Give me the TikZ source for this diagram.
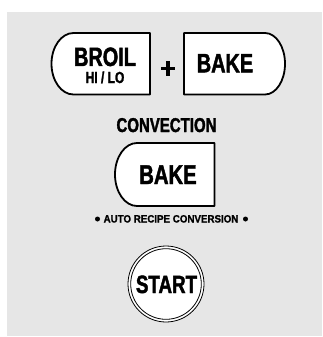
\documentclass[tikz,border=0pt]{standalone}
\usepackage{fontspec}
\setmainfont{Liberation Sans}
\newfontfamily\condfont[FakeStretch=0.75,FakeBold=1.6]{Liberation Sans}
\newfontfamily\plainfont[FakeStretch=0.92,FakeBold=1.2]{Liberation Sans}
\definecolor{panel}{RGB}{230,230,230}
\begin{document}
\begin{tikzpicture}[x=1pt,y=-1pt,
  btn/.style={draw=black, fill=white, line width=1.8pt, line join=round},
  lbl/.style={anchor=base, inner sep=0pt, font=\condfont\bfseries},
  ring/.style={draw=black, line width=0.8pt}]
\useasboundingbox (0,0) rectangle (322,337);
\fill[panel] (7,12) rectangle (322,336);
% BROIL button
\draw[btn] (150,33) -- (73.5,33) arc[start angle=270, end angle=90, x radius=22, y radius=30.75] -- (150,94.5) -- cycle;
% top BAKE button
\draw[btn] (184,33) -- (265,33) arc[start angle=-90, end angle=90, x radius=20, y radius=30.75] -- (184,94.5) -- cycle;
% convection BAKE button
\draw[btn] (214.5,143) -- (137,143) arc[start angle=270, end angle=90, x radius=22, y radius=31.5] -- (214.5,206) -- cycle;
% START button
\draw[ring, fill=white] (166,284) circle (38);
\draw[ring] (166,284) circle (35.3);
% texts
\node[lbl, font=\condfont\bfseries\fontsize{26.5}{26.5}\selectfont] (broil) at (105,66) {BROIL};
\node[lbl, font=\condfont\bfseries\fontsize{16}{16}\selectfont] (hilo) at (105,83) {HI / LO};
\node[lbl, font=\condfont\bfseries\fontsize{26.5}{26.5}\selectfont] (bake1) at (225,72.3) {BAKE};
\node[lbl, font=\condfont\bfseries\fontsize{20}{20}\selectfont] (conv) at (166.5,132) {CONVECTION};
\node[lbl, font=\condfont\bfseries\fontsize{27}{27}\selectfont] (bake2) at (168,184) {BAKE};
\node[lbl, font=\plainfont\bfseries\fontsize{10.6}{10.6}\selectfont] (auto) at (171,222.5) {AUTO RECIPE CONVERSION};
\node[lbl, font=\condfont\bfseries\fontsize{25}{25}\selectfont] (start) at (166.5,293) {START};
% bullets
\fill (97.5,219) circle (2.5);
\fill (245.5,219) circle (2.5);
% plus sign
\draw[line width=3.5pt] (161,68.3) -- (175,68.3);
\draw[line width=3.5pt] (168,61) -- (168,76);
\end{tikzpicture}
\end{document}
